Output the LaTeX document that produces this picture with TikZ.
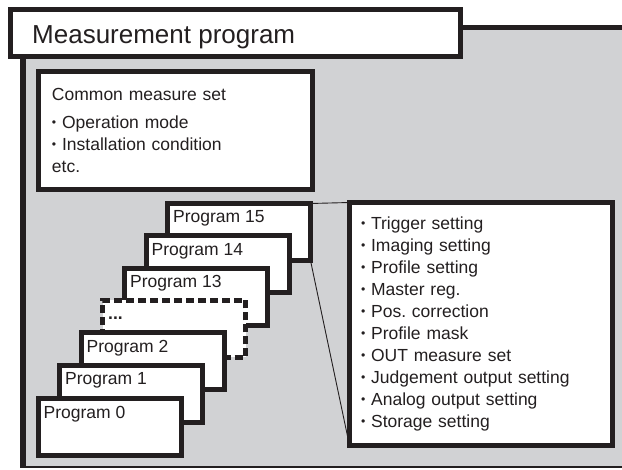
\documentclass[tikz,border=0pt]{standalone}
\usepackage{fontspec}
\setmainfont{Liberation Sans}
\usepackage{graphicx}
\definecolor{panel}{RGB}{209,210,212}
\definecolor{ink}{RGB}{35,31,32}
\newcommand{\itm}{\raisebox{0.1em}{\scalebox{0.7}{\textbullet}}\ }
\frenchspacing

\begin{document}
\begin{tikzpicture}[x=1pt, y=-1pt, font=\fontsize{17.5pt}{22pt}\selectfont, text=ink,
    box/.style = {draw=ink, fill=white, line width=5pt, outer sep=0pt, inner sep=0pt, anchor=north west},
    prog/.style = {box, minimum width=143pt, minimum height=57pt},
    tag/.style = {anchor=base west, inner sep=0pt, xshift=5.5pt, yshift=-19.5pt},
    leader/.style = {draw=ink, line width=0.9pt}]
    \useasboundingbox (0,0) rectangle (622,470);

    % Panel
    \fill[panel] (23,28) rectangle (622,467);
    \draw[ink, line width=1.5pt] (23,467) -- (622,467);
    \draw[ink, line width=6pt] (23,467.75) -- (23,40);
    \draw[ink, line width=5pt] (450,28) -- (622,28);

    % Nodes
    \node[box, minimum width=450pt, minimum height=47pt,
          label={[anchor=base west, inner sep=0pt, xshift=22pt, yshift=-9.8pt, font=\fontsize{26pt}{30pt}\selectfont]west:Measurement program}] (title) at (10,10) {};
    \node[box, minimum width=274.5pt, minimum height=118.5pt, inner xsep=14pt, text width=246.5pt, align=left,
          font=\fontsize{17.5pt}{22.4pt}\selectfont] (common) at (38,71.5)
          {Common measure set\\[5.2pt]\itm Operation mode\\\itm Installation condition\\etc.};

    \node[prog, label={[tag]north west:Program 15}] (p15) at (167.5,203.5) {};
    \node[prog, label={[tag]north west:Program 14}] (p14) at (146,236) {};
    \node[prog, label={[tag]north west:Program 13}] (p13) at (124.5,268.5) {};
    \node[prog, dash pattern=on 8pt off 4pt, label={[tag]north west:\textbf{...}}] (dots) at (102.5,300.5) {};
    \node[prog, label={[tag]north west:Program 2}] (p2) at (81,333) {};
    \node[prog, label={[tag]north west:Program 1}] (p1) at (59.5,365.5) {};
    \node[prog, label={[tag]north west:Program 0}] (p0) at (38,399) {};

    \node[box, minimum width=263pt, minimum height=243pt, inner xsep=11.5pt, text width=240pt, align=left] (list) at (349.5,202.5)
          {\itm Trigger setting\\\itm Imaging setting\\\itm Profile setting\\\itm Master reg.\\\itm Pos. correction\\
           \itm Profile mask\\\itm OUT measure set\\\itm Judgement output setting\\\itm Analog output setting\\\itm Storage setting};

    % Edges
    \draw[leader] (p15.north east) -- (list.north west);
    \draw[leader] (p15.south east) -- (list.south west);
\end{tikzpicture}
\end{document}
